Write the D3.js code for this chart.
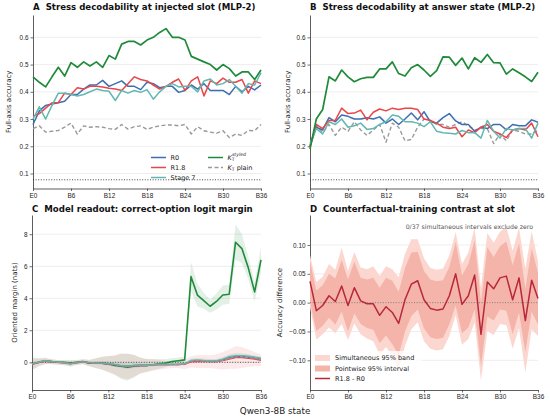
<!DOCTYPE html>
<html>
<head>
<meta charset="utf-8">
<script src="https://cdn.jsdelivr.net/npm/d3@7"></script>
<style>
  body { margin: 0; background: #fff; }
  svg { display: block; font-family: "DejaVu Sans", sans-serif; }
</style>
</head>
<body>
<div id="chart"></div>
<script>
const W = 550, H = 419;

// states E0, B1 .. B36
const states = d3.range(37);
const tickIdx = [0, 6, 12, 18, 24, 30, 36];
const tickLabels = ["E0", "B6", "B12", "B18", "B24", "B30", "B36"];

// Panel A: stress decodability at injected slot
const slotR0 = [0.28,0.33,0.35,0.355,0.36,0.365,0.39,0.39,0.41,0.425,0.425,0.442,0.42,0.43,0.44,0.42,0.42,0.408,0.435,0.43,0.415,0.42,0.42,0.398,0.405,0.425,0.41,0.43,0.405,0.405,0.405,0.39,0.42,0.40,0.42,0.407,0.425];
const slotR18 = [0.31,0.32,0.34,0.36,0.36,0.395,0.39,0.415,0.41,0.42,0.42,0.418,0.413,0.41,0.405,0.43,0.455,0.445,0.44,0.425,0.41,0.42,0.435,0.447,0.405,0.44,0.455,0.385,0.44,0.43,0.45,0.435,0.435,0.445,0.395,0.44,0.43];
const slotStage7 = [0.30,0.345,0.30,0.35,0.395,0.395,0.39,0.385,0.39,0.40,0.41,0.405,0.402,0.368,0.405,0.395,0.405,0.398,0.408,0.373,0.40,0.42,0.43,0.418,0.42,0.42,0.40,0.44,0.447,0.425,0.43,0.445,0.42,0.395,0.43,0.425,0.47];
const slotStyled = [0.455,0.435,0.418,0.455,0.49,0.458,0.507,0.49,0.51,0.495,0.51,0.49,0.533,0.52,0.575,0.585,0.585,0.572,0.59,0.60,0.618,0.632,0.60,0.60,0.59,0.53,0.52,0.51,0.50,0.48,0.50,0.485,0.458,0.473,0.473,0.445,0.48];
const slotPlain = [0.265,0.275,0.252,0.255,0.258,0.27,0.285,0.245,0.275,0.27,0.272,0.27,0.265,0.262,0.28,0.263,0.272,0.275,0.262,0.27,0.275,0.278,0.278,0.275,0.28,0.245,0.272,0.257,0.252,0.248,0.257,0.232,0.245,0.24,0.258,0.257,0.28];

// Panel B: stress decodability at answer state
const ansR0 = [0.20,0.27,0.26,0.305,0.29,0.315,0.31,0.30,0.30,0.305,0.30,0.308,0.285,0.30,0.28,0.30,0.322,0.297,0.327,0.29,0.285,0.305,0.32,0.293,0.28,0.28,0.255,0.27,0.265,0.28,0.28,0.26,0.28,0.275,0.275,0.297,0.288];
const ansR18 = [0.20,0.28,0.265,0.295,0.295,0.34,0.32,0.322,0.333,0.297,0.325,0.337,0.33,0.34,0.335,0.34,0.34,0.335,0.30,0.295,0.285,0.27,0.265,0.27,0.235,0.26,0.25,0.27,0.28,0.255,0.245,0.232,0.26,0.265,0.26,0.285,0.235];
const ansStage7 = [0.21,0.265,0.245,0.29,0.28,0.30,0.27,0.275,0.285,0.262,0.265,0.28,0.29,0.315,0.31,0.29,0.29,0.285,0.272,0.29,0.255,0.25,0.248,0.245,0.258,0.25,0.25,0.23,0.295,0.255,0.23,0.265,0.26,0.265,0.265,0.23,0.285];
const ansStyled = [0.19,0.30,0.335,0.455,0.44,0.48,0.455,0.437,0.448,0.453,0.453,0.484,0.484,0.51,0.467,0.458,0.488,0.50,0.48,0.457,0.478,0.528,0.527,0.497,0.524,0.484,0.525,0.508,0.537,0.507,0.506,0.465,0.484,0.47,0.455,0.438,0.472];
const ansPlain = [0.20,0.275,0.25,0.28,0.24,0.27,0.255,0.29,0.26,0.24,0.26,0.28,0.215,0.285,0.27,0.22,0.225,0.27,0.30,0.295,0.28,0.28,0.27,0.28,0.29,0.275,0.26,0.265,0.265,0.21,0.245,0.22,0.26,0.255,0.245,0.245,0.26];
const chanceLevel = 0.077;

// Panel C: correct-option logit margin (nats), with band half-widths
const marR0 = [-0.12,-0.02,0.08,0.05,0.0,-0.02,-0.08,-0.02,0.03,-0.03,-0.05,-0.06,-0.1,-0.15,-0.22,-0.25,-0.2,-0.2,-0.2,-0.15,-0.15,-0.15,-0.15,-0.15,-0.12,0.08,0.1,0.08,0.05,0.05,0.15,0.3,0.35,0.38,0.33,0.28,0.2];
const marR18 = [-0.12,-0.02,0.06,0.04,0.0,-0.03,-0.08,-0.03,0.02,-0.04,-0.06,-0.07,-0.1,-0.15,-0.22,-0.26,-0.22,-0.2,-0.2,-0.16,-0.15,-0.15,-0.15,-0.15,-0.12,0.03,0.05,0.05,0.04,0.05,0.1,0.2,0.3,0.3,0.25,0.2,0.12];
const marStage7 = [-0.1,0.0,0.1,0.06,0.01,-0.03,-0.1,-0.02,0.04,-0.02,-0.04,-0.05,-0.08,-0.13,-0.2,-0.24,-0.2,-0.18,-0.18,-0.15,-0.12,-0.12,-0.12,-0.12,-0.1,0.12,0.15,0.12,0.1,0.1,0.2,0.35,0.42,0.42,0.38,0.32,0.25];
const marStyled = [-0.1,0.0,0.1,0.05,0.0,0.0,-0.05,0.0,0.05,-0.05,-0.05,-0.05,-0.1,-0.2,-0.25,-0.3,-0.25,-0.2,-0.2,-0.15,-0.1,-0.05,0.05,0.1,0.15,5.35,4.2,3.85,3.5,3.8,4.2,4.25,7.5,7.1,5.9,4.4,6.4];
const marPlain = [-0.1,-0.01,0.08,0.05,0.0,-0.02,-0.07,-0.02,0.03,-0.03,-0.05,-0.06,-0.1,-0.14,-0.2,-0.24,-0.2,-0.19,-0.19,-0.15,-0.13,-0.13,-0.13,-0.13,-0.1,0.06,0.1,0.06,0.05,0.05,0.12,0.25,0.33,0.35,0.3,0.25,0.18];
const marStyledHw = [0.4,0.25,0.2,0.15,0.15,0.15,0.2,0.15,0.15,0.2,0.3,0.4,0.5,0.6,0.8,0.85,0.7,0.5,0.4,0.35,0.3,0.25,0.2,0.2,0.2,0.9,0.7,0.5,0.4,0.5,0.6,0.6,1.1,0.9,0.7,0.6,0.8];
const marR18Hw = [0.35,0.25,0.2,0.15,0.15,0.15,0.2,0.15,0.15,0.2,0.3,0.4,0.5,0.6,0.75,0.8,0.7,0.5,0.4,0.35,0.3,0.25,0.2,0.2,0.3,0.35,0.4,0.4,0.4,0.45,0.55,0.6,0.7,0.65,0.55,0.45,0.35];
const marStage7Hw = [0.1,0.08,0.08,0.06,0.06,0.06,0.08,0.06,0.06,0.07,0.08,0.1,0.12,0.14,0.16,0.17,0.15,0.12,0.1,0.09,0.08,0.08,0.07,0.07,0.08,0.1,0.1,0.1,0.1,0.11,0.12,0.13,0.14,0.13,0.12,0.11,0.1];

// Panel D: R1.8 - R0 contrast at slot, with interval half-widths
const diff = [0.037,-0.014,-0.005,0.012,0.002,0.029,-0.005,0.026,0.003,-0.002,-0.002,-0.022,-0.007,-0.017,-0.036,0.005,0.032,0.038,0.005,-0.01,-0.013,-0.011,0.012,0.05,-0.003,0.012,0.048,-0.055,0.036,0.024,0.043,0.046,0.005,0.043,-0.031,0.039,0.007];
const pointHw = [0.035,0.035,0.035,0.038,0.04,0.045,0.045,0.045,0.04,0.042,0.045,0.048,0.05,0.055,0.055,0.055,0.055,0.05,0.05,0.05,0.05,0.05,0.05,0.055,0.05,0.055,0.06,0.055,0.06,0.055,0.055,0.06,0.06,0.06,0.055,0.055,0.045];
const simHw = [0.045,0.05,0.05,0.055,0.055,0.066,0.06,0.062,0.058,0.06,0.065,0.068,0.07,0.075,0.08,0.08,0.078,0.072,0.072,0.07,0.07,0.07,0.07,0.072,0.07,0.075,0.082,0.08,0.085,0.08,0.08,0.085,0.085,0.087,0.09,0.085,0.065];

const col = {
  r0: "#3d6fb0", r18: "#e8474a", stage7: "#62b7b0", styled: "#1f8a3a", plain: "#999999",
  diff: "#b8283c", sim: "#fbd7d0", point: "#f4b4a9"
};

const svg = d3.select("#chart").append("svg")
  .attr("width", W).attr("height", H);

function panel(box, ydom, yticks, yfmt, title, titleY, ylabel, ylabelX) {
  const g = svg.append("g");
  const x = d3.scaleLinear().domain([0, 36]).range([box.l, box.r]);
  const y = d3.scaleLinear().domain(ydom).range([box.b, box.t]);

  // grid
  g.selectAll(".grid").data(yticks).enter().append("line")
    .attr("x1", box.l).attr("x2", box.r)
    .attr("y1", d => y(d)).attr("y2", d => y(d))
    .attr("stroke", "#e6e6e6").attr("stroke-width", 0.7);

  const xa = g.append("g").attr("transform", `translate(0,${box.b})`)
    .call(d3.axisBottom(x).tickValues(tickIdx).tickFormat((d, i) => tickLabels[i])
      .tickSize(2.5).tickSizeOuter(0).tickPadding(2));
  const ya = g.append("g").attr("transform", `translate(${box.l},0)`)
    .call(d3.axisLeft(y).tickValues(yticks).tickFormat(yfmt)
      .tickSize(2.5).tickSizeOuter(0).tickPadding(2));
  [xa, ya].forEach(a => {
    a.select(".domain").attr("stroke", "#333").attr("stroke-width", 0.8);
    a.selectAll(".tick line").attr("stroke", "#333").attr("stroke-width", 0.7);
    a.selectAll(".tick text").attr("fill", "#222").style("font-size", "6.4px");
  });

  svg.append("text").attr("x", box.l).attr("y", titleY)
    .style("font-size", "8.6px").style("font-weight", "bold").style("white-space", "pre")
    .attr("fill", "#111").text(title);

  svg.append("text")
    .attr("transform", `translate(${ylabelX},${(box.t + box.b) / 2})rotate(-90)`)
    .attr("text-anchor", "middle").style("font-size", "7px").attr("fill", "#222")
    .text(ylabel);

  const plot = svg.append("g");
  return { x, y, plot, box };
}

function drawLine(p, vals, color, width, dash) {
  const line = d3.line().x((d, i) => p.x(i)).y(d => p.y(d));
  p.plot.append("path").datum(vals).attr("d", line)
    .attr("fill", "none").attr("stroke", color).attr("stroke-width", width)
    .attr("stroke-linejoin", "round")
    .attr("stroke-dasharray", dash || null);
}

function drawBand(p, vals, hw, color, opacity) {
  const area = d3.area().x((d, i) => p.x(i))
    .y0((d, i) => p.y(d - hw[i])).y1((d, i) => p.y(d + hw[i]));
  p.plot.append("path").datum(vals).attr("d", area)
    .attr("fill", color).attr("fill-opacity", opacity).attr("stroke", "none");
}

function refLine(p, v, color) {
  p.plot.append("line").attr("x1", p.box.l).attr("x2", p.box.r)
    .attr("y1", p.y(v)).attr("y2", p.y(v))
    .attr("stroke", color).attr("stroke-width", 0.9).attr("stroke-dasharray", "1,1.6");
}

const accTicks = [0.1, 0.2, 0.3, 0.4, 0.5, 0.6];

// A
const pA = panel({ l: 33, r: 261, t: 15, b: 188.5 }, [0.045, 0.682], accTicks, d3.format(".1f"),
  "A  Stress decodability at injected slot (MLP-2)", 10, "Full-axis accuracy", 10.5);
refLine(pA, chanceLevel, "#333");
drawLine(pA, slotPlain, col.plain, 1.4, "4,2.5");
drawLine(pA, slotR0, col.r0, 1.5);
drawLine(pA, slotR18, col.r18, 1.5);
drawLine(pA, slotStage7, col.stage7, 1.5);
drawLine(pA, slotStyled, col.styled, 1.7);

// B
const pB = panel({ l: 310, r: 538, t: 15, b: 188.5 }, [0.045, 0.682], accTicks, d3.format(".1f"),
  "B  Stress decodability at answer state (MLP-2)", 10, "Full-axis accuracy", 289.5);
refLine(pB, chanceLevel, "#333");
drawLine(pB, ansPlain, col.plain, 1.4, "4,2.5");
drawLine(pB, ansR0, col.r0, 1.5);
drawLine(pB, ansR18, col.r18, 1.5);
drawLine(pB, ansStage7, col.stage7, 1.5);
drawLine(pB, ansStyled, col.styled, 1.7);

// legend A
const legA = svg.append("g").style("font-size", "6.5px").attr("fill", "#222");
const legItemsA = [
  { c: col.r0, t: "R0", x: 151, y: 157.5 },
  { c: col.r18, t: "R1.8", x: 151, y: 167.5 },
  { c: col.stage7, t: "Stage 7", x: 151, y: 177.5 },
  { c: col.styled, t: "styled", x: 208, y: 157.5, k: true },
  { c: col.plain, t: " plain", x: 208, y: 167.5, k: true, dash: "4,2.5" }
];
legItemsA.forEach(d => {
  legA.append("line").attr("x1", d.x).attr("x2", d.x + 15).attr("y1", d.y).attr("y2", d.y)
    .attr("stroke", d.c).attr("stroke-width", 1.5).attr("stroke-dasharray", d.dash || null);
  const t = legA.append("text").attr("x", d.x + 19.5).attr("y", d.y + 2.3);
  if (d.k) {
    t.append("tspan").style("font-style", "italic").text("K");
    t.append("tspan").attr("dy", 1.5).style("font-size", "4.6px").text("T");
    if (d.t === "styled") {
      t.append("tspan").attr("dx", -2.6).attr("dy", -5.5).style("font-size", "4.6px")
        .style("font-style", "italic").text("styled");
    } else {
      t.append("tspan").attr("dy", -1.5).text(d.t);
    }
  } else {
    t.text(d.t);
  }
});

// C
const pC = panel({ l: 32, r: 261, t: 215, b: 390 }, [-1.73, 9.2], [0, 2, 4, 6, 8], d3.format("d"),
  "C  Model readout: correct-option logit margin", 211.5, "Oriented margin (nats)", 17);
drawBand(pC, marStyled, marStyledHw, col.styled, 0.13);
drawBand(pC, marR18, marR18Hw, col.r18, 0.12);
drawBand(pC, marStage7, marStage7Hw, col.stage7, 0.25);
refLine(pC, 0, "#444");
drawLine(pC, marStyled, col.styled, 1.6);
drawLine(pC, marR0, col.r0, 1.3);
drawLine(pC, marR18, col.r18, 1.3);
drawLine(pC, marStage7, col.stage7, 1.4);
drawLine(pC, marPlain, col.plain, 1.2, "3,2");

// D
const pD = panel({ l: 310, r: 538, t: 215, b: 390 }, [-0.1515, 0.152], [-0.10, -0.05, 0, 0.05, 0.10],
  d => d3.format(".2f")(d).replace("-", "\u2212"),
  "D  Counterfactual-training contrast at slot", 211.5, "Accuracy difference", 281.5);
drawBand(pD, diff, simHw, col.sim, 1);
drawBand(pD, diff, pointHw, col.point, 1);
refLine(pD, 0, "#777");
drawLine(pD, diff, col.diff, 1.5);

svg.append("text").attr("x", 533).attr("y", 228.5).attr("text-anchor", "end")
  .style("font-size", "6.2px").attr("fill", "#555")
  .text("0/37 simultaneous intervals exclude zero");

// legend D
const legD = svg.append("g").style("font-size", "6.5px").attr("fill", "#222");
legD.append("rect").attr("x", 311).attr("y", 351).attr("width", 111).attr("height", 33)
  .attr("fill", "#fff").attr("fill-opacity", 0.75);
const legItemsD = [
  { t: "Simultaneous 95% band", c: col.sim, y: 358, patch: true },
  { t: "Pointwise 95% interval", c: col.point, y: 368.5, patch: true },
  { t: "R1.8 - R0", c: col.diff, y: 378.5, patch: false }
];
legItemsD.forEach(d => {
  if (d.patch) {
    legD.append("rect").attr("x", 315).attr("y", d.y - 3).attr("width", 15).attr("height", 6)
      .attr("fill", d.c);
  } else {
    legD.append("line").attr("x1", 315).attr("x2", 330).attr("y1", d.y).attr("y2", d.y)
      .attr("stroke", d.c).attr("stroke-width", 1.5);
  }
  legD.append("text").attr("x", 335).attr("y", d.y + 2.3).text(d.t);
});

// shared x label
svg.append("text").attr("x", 275).attr("y", 414).attr("text-anchor", "middle")
  .style("font-size", "8.8px").attr("fill", "#222").text("Qwen3-8B state");
</script>
</body>
</html>
